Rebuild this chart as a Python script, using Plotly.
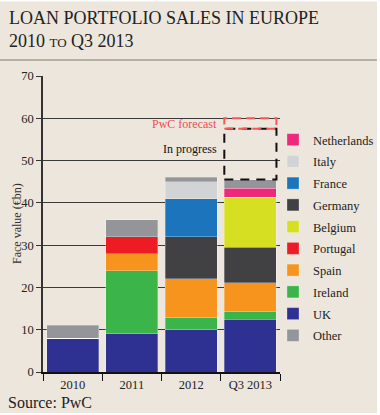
import plotly.graph_objects as go

categories = ["2010", "2011", "2012", "Q3 2013"]
uk = [8, 9, 10, 12.5]
ireland = [0, 15, 3, 1.7]
spain = [0, 4, 9, 6.9]
portugal = [0, 4, 0, 0]
germany = [0, 0, 10, 8.4]
belgium = [0, 0, 0, 11.8]
france = [0, 0, 9, 0]
italy = [0, 0, 4, 0]
netherlands = [0, 0, 0, 2.1]
other = [3, 4, 1, 2.1]
in_progress = [0, 0, 0, 12]
forecast = [0, 0, 0, 2.5]
y_ticks = [0, 10, 20, 30, 40, 50, 60, 70]

series = [
    ("UK", uk, "#2E3192", 9),
    ("Ireland", ireland, "#3BB54A", 8),
    ("Spain", spain, "#F7941D", 7),
    ("Portugal", portugal, "#ED1C24", 6),
    ("Germany", germany, "#414042", 4),
    ("Belgium", belgium, "#D7DF23", 5),
    ("France", france, "#1C75BC", 3),
    ("Italy", italy, "#D1D3D4", 2),
    ("Netherlands", netherlands, "#EC297B", 1),
    ("Other", other, "#939598", 10),
]

W, H = 380, 415
L, R, T, B = 43, 3, 3, 3
PW, PH = W - L - R, H - T - B
# plot area in pixels
PX0, PX1, PY0, PY1 = 43, 280, 76, 372


def px(x):
    return (x - L) / PW


def py(y):
    return (H - B - y) / PH


SERIF = "Liberation Serif, Times New Roman, serif"
BG = "#ECE6DC"
BARGAP = 0.12

fig = go.Figure()
for name, vals, color, rank in series:
    fig.add_trace(go.Bar(
        x=categories, y=vals, name=name,
        marker=dict(color=color, line=dict(color="rgba(255,255,255,0.35)", width=0.8)),
        legendrank=rank, legendgroup=name,
    ))

shapes = []
half = (1 - BARGAP) / 2
ann_x = len(categories) - 1 - half
for i, cat in enumerate(categories):
    if in_progress[i] or forecast[i]:
        base = sum(s[1][i] for s in series)
        shapes.append(dict(type="rect", xref="x", yref="y", x0=i - half, x1=i + half,
                           y0=base, y1=base + in_progress[i],
                           line=dict(color="#111", width=2, dash="9px,7px"), layer="above"))
        shapes.append(dict(type="rect", xref="x", yref="y", x0=i - half, x1=i + half,
                           y0=base + in_progress[i], y1=base + in_progress[i] + forecast[i],
                           line=dict(color="#F15A5A", width=2, dash="9px,5px"), layer="above"))
        ann_x = i - half

shapes.insert(0, dict(type="rect", xref="paper", yref="paper", x0=px(0), x1=px(377),
                      y0=py(413), y1=py(1.5), fillcolor=BG, line=dict(width=0), layer="below"))
shapes.append(dict(type="line", xref="paper", yref="paper", x0=px(0), x1=px(377),
                   y0=py(60), y1=py(60), line=dict(color="#B3AFA3", width=2)))

annotations = [
    dict(xref="paper", yref="paper", x=px(7), y=py(6), xanchor="left", yanchor="top",
         align="left", showarrow=False,
         text="LOAN PORTFOLIO SALES IN EUROPE<br>2010 <span style='font-size:13px'>TO</span> Q3 2013",
         font=dict(family=SERIF, size=18, color="#222")),
    dict(xref="paper", yref="paper", x=px(6), y=py(402), xanchor="left", yanchor="middle",
         showarrow=False, text="Source: PwC", font=dict(family=SERIF, size=16, color="#222")),
    dict(xref="paper", yref="paper", x=px(17), y=py((PY0 + PY1) / 2), xanchor="center",
         yanchor="middle", textangle=-90, showarrow=False, text="Face value (€bn)",
         font=dict(family=SERIF, size=12, color="#333")),
    dict(xref="x", yref="y", x=ann_x, y=58.7, xanchor="right", yanchor="middle", xshift=-5,
         showarrow=False, text="PwC forecast", font=dict(family=SERIF, size=12, color="#F04E4E")),
    dict(xref="x", yref="y", x=ann_x, y=52.8, xanchor="right", yanchor="middle", xshift=-5,
         showarrow=False, text="In progress", font=dict(family=SERIF, size=12, color="#111")),
]

fig.update_layout(
    width=W, height=H, margin=dict(l=L, r=R, t=T, b=B, autoexpand=False),
    paper_bgcolor="white", plot_bgcolor="rgba(0,0,0,0)",
    barmode="stack", bargap=BARGAP,
    font=dict(family=SERIF, size=12, color="#222"),
    shapes=shapes, annotations=annotations,
    legend=dict(x=px(273), y=py(125), xanchor="left", yanchor="top",
                font=dict(family=SERIF, size=12.5, color="#222"),
                traceorder="grouped", tracegroupgap=2.5, bgcolor="rgba(0,0,0,0)",
                itemclick=False),
    xaxis=dict(domain=[px(PX0), px(PX1)], showline=True, linecolor="#111", linewidth=1.5,
               ticks="outside", tickson="boundaries", ticklen=7, tickcolor="#111", tickwidth=1.2,
               tickfont=dict(family=SERIF, size=12.5, color="#222"), showgrid=False),
    yaxis=dict(domain=[py(PY1), py(PY0)], range=[0, 70], tickvals=y_ticks, showline=True,
               linecolor="#333", linewidth=1.5,
               ticks="outside", ticklen=5, tickcolor="#333", showgrid=True, gridcolor="#3a3a3a",
               gridwidth=1.3, zeroline=False,
               tickfont=dict(family=SERIF, size=12.5, color="#222")),
)

fig.write_html("out.html", post_script="document.body.style.margin='0';",
               config={"displayModeBar": False})
